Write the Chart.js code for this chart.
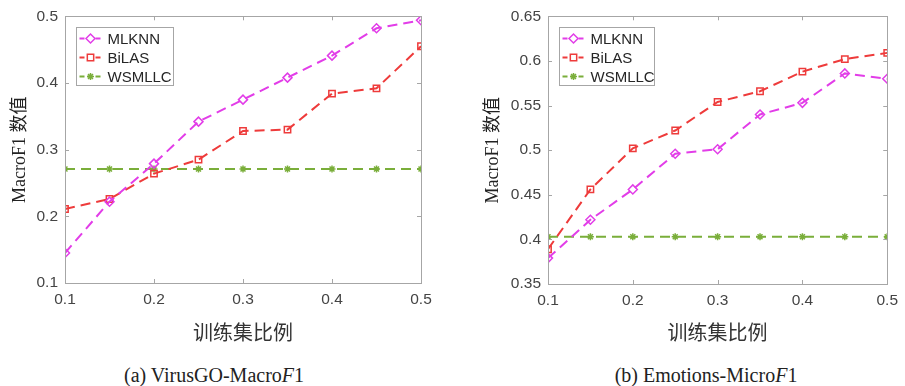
<!DOCTYPE html>
<html>
<head>
<meta charset="utf-8">
<script src="https://cdn.jsdelivr.net/npm/chart.js@4.4.1/dist/chart.umd.min.js"></script>
<style>
  body { margin: 0; background: #fff; width: 905px; height: 386px; position: relative; overflow: hidden; }
  .box { position: absolute; top: 0; height: 350px; }
  .cap { position: absolute; top: 363px; font-family: "Liberation Serif", "Times New Roman", serif; font-size: 20px; color: #222; white-space: nowrap; transform: translateX(-50%); line-height: 24px; }
</style>
</head>
<body>
<div class="box" style="left:0;width:450px"><canvas id="chart-a"></canvas></div>
<div class="box" style="left:450px;width:455px"><canvas id="chart-b"></canvas></div>
<div class="cap" style="left:214px">(a) VirusGO-Macro<i>F</i>1</div>
<div class="cap" style="left:706px">(b) Emotions-Micro<i>F</i>1</div>
<script>
// training ratio (x values)
var ratios = [0.1, 0.15, 0.2, 0.25, 0.3, 0.35, 0.4, 0.45, 0.5];
var xTicks = [0.1, 0.2, 0.3, 0.4, 0.5];

// (a) VirusGO
var virusMLKNN = [0.145, 0.222, 0.279, 0.342, 0.375, 0.408, 0.441, 0.482, 0.494];
var virusBiLAS = [0.211, 0.226, 0.264, 0.285, 0.328, 0.330, 0.384, 0.392, 0.455];
var virusWSMLLC = [0.271, 0.271, 0.271, 0.271, 0.271, 0.271, 0.271, 0.271, 0.271];
var virusYTicks = [0.1, 0.2, 0.3, 0.4, 0.5];

// (b) Emotions
var emoMLKNN = [0.379, 0.422, 0.456, 0.496, 0.501, 0.540, 0.553, 0.586, 0.580];
var emoBiLAS = [0.389, 0.456, 0.502, 0.522, 0.554, 0.566, 0.588, 0.602, 0.609];
var emoWSMLLC = [0.403, 0.403, 0.403, 0.403, 0.403, 0.403, 0.403, 0.403, 0.403];
var emoYTicks = [0.35, 0.4, 0.45, 0.5, 0.55, 0.6, 0.65];

var seriesNames = ["MLKNN", "BiLAS", "WSMLLC"];

var MAGENTA = "#e23de8";
var RED = "#ee3b3b";
var GREEN = "#7aae3a";
var FRAME = "#a6a6a6";

function pts(ys) {
    return ratios.map(function (x, i) { return { x: x, y: ys[i] }; });
}

function makeDatasets(a, b, c) {
    var base = {
        borderWidth: 2,
        borderDash: [10, 6],
        tension: 0,
        pointBorderWidth: 1.5,
        pointBackgroundColor: "rgba(255,255,255,0)",
        fill: false,
    };
    return [
        Object.assign({}, base, { label: seriesNames[0], data: pts(a), borderColor: MAGENTA, pointBorderColor: MAGENTA, pointStyle: "rectRot", pointRadius: 4.5 }),
        Object.assign({}, base, { label: seriesNames[1], data: pts(b), borderColor: RED, pointBorderColor: RED, pointStyle: "rect", pointRadius: 4.5 }),
        Object.assign({}, base, { label: seriesNames[2], data: pts(c), borderColor: GREEN, pointBorderColor: GREEN, pointStyle: "star", pointRadius: 3.5 }),
    ];
}

// frame + inward ticks + legend inside plot
var framePlugin = {
    id: "matlabFrame",
    afterDraw: function (chart, args, opts) {
        var ctx = chart.ctx;
        var ca = chart.chartArea;
        ctx.save();
        ctx.strokeStyle = FRAME;
        ctx.lineWidth = 1;
        ctx.setLineDash([]);
        ctx.strokeRect(Math.round(ca.left) + 0.5, Math.round(ca.top) + 0.5, Math.round(ca.right - ca.left), Math.round(ca.bottom - ca.top));
        var xs = chart.scales.x, ys = chart.scales.y;
        ctx.beginPath();
        xs.ticks.forEach(function (t) {
            var px = Math.round(xs.getPixelForValue(t.value)) + 0.5;
            ctx.moveTo(px, ca.bottom); ctx.lineTo(px, ca.bottom - 4);
            ctx.moveTo(px, ca.top); ctx.lineTo(px, ca.top + 4);
        });
        ys.ticks.forEach(function (t) {
            var py = Math.round(ys.getPixelForValue(t.value)) + 0.5;
            ctx.moveTo(ca.left, py); ctx.lineTo(ca.left + 4, py);
            ctx.moveTo(ca.right, py); ctx.lineTo(ca.right - 4, py);
        });
        ctx.stroke();

        // legend
        var bx = Math.round(ca.left + 11) + 0.5, by = Math.round(ca.top + 11) + 0.5;
        var bw = opts.width || 97, bh = 58;
        ctx.fillStyle = "#fff";
        ctx.fillRect(bx, by, bw, bh);
        ctx.strokeStyle = FRAME;
        ctx.strokeRect(bx, by, bw, bh);
        ctx.font = "15px 'Liberation Sans', Arial, sans-serif";
        ctx.textBaseline = "middle";
        ctx.textAlign = "left";
        chart.data.datasets.forEach(function (ds, i) {
            var y = by + 11 + i * 19;
            ctx.strokeStyle = ds.borderColor;
            ctx.lineWidth = 2;
            ctx.setLineDash([5, 3]);
            ctx.beginPath();
            ctx.moveTo(bx + 3, y); ctx.lineTo(bx + 25, y);
            ctx.stroke();
            ctx.setLineDash([]);
            ctx.lineWidth = 1.5;
            if (Chart.helpers && Chart.helpers.drawPoint) {
                ctx.fillStyle = "#fff";
                Chart.helpers.drawPoint(ctx, { pointStyle: ds.pointStyle, radius: ds.pointRadius, borderWidth: 1.5, rotation: 0 }, bx + 14, y);
            }
            ctx.fillStyle = "#262626";
            ctx.fillText(ds.label, bx + 31, y + 1);
        });
        ctx.restore();
    },
};

function makeChart(id, datasets, yTicks, yMin, yMax, opt) {
    var tickFont = { family: "'Liberation Sans', Arial, sans-serif", size: 15.5 };
    var titleFamily = "'Liberation Serif', 'Noto Sans CJK SC', serif";
    return new Chart(document.getElementById(id).getContext("2d"), {
        type: "line",
        data: { datasets: datasets },
        options: {
            responsive: true,
            maintainAspectRatio: false,
            animation: false,
            layout: { padding: opt.padding },
            plugins: {
                legend: { display: false },
                tooltip: { enabled: false },
                matlabFrame: { width: opt.legendWidth },
            },
            scales: {
                x: {
                    type: "linear",
                    min: 0.1,
                    max: 0.5,
                    afterBuildTicks: function (s) { s.ticks = xTicks.map(function (v) { return { value: v }; }); },
                    afterFit: function (s) { s.height = opt.xHeight; },
                    grid: { display: false, drawTicks: false },
                    border: { display: false },
                    ticks: {
                        color: "#444",
                        font: tickFont,
                        padding: 7,
                        maxRotation: 0,
                        callback: function (v) { return String(+v.toFixed(2)); },
                    },
                    title: {
                        display: true,
                        text: "训练集比例",
                        color: "#333",
                        font: { family: titleFamily, size: 20 },
                        padding: { top: 0, bottom: 3 },
                    },
                },
                y: {
                    min: yMin,
                    max: yMax,
                    afterBuildTicks: function (s) { s.ticks = yTicks.map(function (v) { return { value: v }; }); },
                    afterFit: function (s) { s.width = opt.yWidth; },
                    grid: { display: false, drawTicks: false },
                    border: { display: false },
                    ticks: {
                        color: "#444",
                        font: tickFont,
                        padding: 7,
                        callback: function (v) { return String(+v.toFixed(2)); },
                    },
                    title: {
                        display: true,
                        text: "MacroF1 数值",
                        color: "#222",
                        font: { family: titleFamily, size: 18 },
                        padding: { top: opt.yTitlePad, bottom: 0 },
                    },
                },
            },
        },
        plugins: [framePlugin],
    });
}

makeChart("chart-a", makeDatasets(virusMLKNN, virusBiLAS, virusWSMLLC), virusYTicks, 0.1, 0.5, {
    padding: { left: 0, top: 16, right: 29, bottom: 0 },
    yWidth: 65, xHeight: 67, yTitlePad: 9, legendWidth: 97,
});
makeChart("chart-b", makeDatasets(emoMLKNN, emoBiLAS, emoWSMLLC), emoYTicks, 0.35, 0.65, {
    padding: { left: 0, top: 15, right: 12, bottom: 0 },
    yWidth: 98, xHeight: 66, yTitlePad: 32, legendWidth: 95,
});
</script>
</body>
</html>
